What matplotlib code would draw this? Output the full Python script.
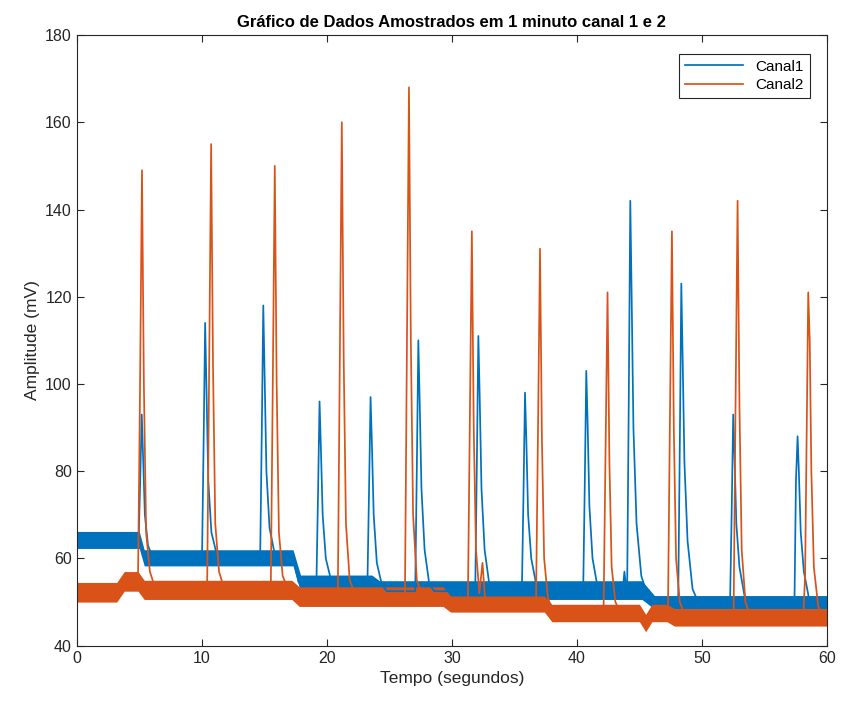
import numpy as np
import matplotlib
matplotlib.use("Agg")
import matplotlib.pyplot as plt

plt.rcParams['font.family'] = ['Liberation Sans', 'DejaVu Sans']

# Canal1 trace keypoints (seconds, mV)
c1_t = [0, 4.95, 5.08, 5.2, 5.3, 5.45, 5.7, 6.1,
        10.02, 10.15, 10.27, 10.37, 10.52, 10.77, 11.15, 11.6,
        14.67, 14.8, 14.92, 15.02, 15.17, 15.42, 15.8, 16.2,
        17.3, 17.75,
        19.17, 19.3, 19.42, 19.52, 19.67, 19.92, 20.3, 20.7,
        23.25, 23.38, 23.5, 23.6, 23.75, 24.0, 24.4, 24.8,
        27.07, 27.2, 27.32, 27.42, 27.57, 27.82, 28.2, 28.6,
        31.87, 32.0, 32.12, 32.22, 32.37, 32.62, 33.0, 33.4,
        35.6, 35.73, 35.85, 35.95, 36.1, 36.35, 36.75, 37.1,
        40.5, 40.63, 40.75, 40.85, 41.0, 41.25, 41.65, 42.0,
        43.65, 43.8, 43.95,
        44.02, 44.15, 44.27, 44.37, 44.52, 44.77, 45.15, 45.6, 46.3,
        48.1, 48.23, 48.35, 48.45, 48.6, 48.85, 49.25, 49.7,
        52.25, 52.38, 52.5, 52.6, 52.75, 53.0, 53.4, 53.8,
        57.4, 57.52, 57.65, 57.75, 57.9, 58.15, 58.55, 59.0, 60]
c1_v = [64, 64, 78, 93, 84, 70, 63, 60,
        60, 87, 114, 100, 78, 66, 61.5, 60,
        60, 89, 118, 103, 80, 67, 61.5, 60,
        60, 54.5,
        54.5, 75, 96, 86, 70, 60, 55.5, 54.5,
        54.5, 76, 97, 87, 70, 59, 54, 52.5,
        52.5, 81, 110, 97, 76, 62, 54, 52.5,
        52.5, 82, 111, 98, 76, 62, 54, 52.5,
        52.5, 75, 98, 88, 70, 60, 54, 52.5,
        52, 77, 103, 92, 72, 60, 53.5, 52,
        52, 57, 53,
        53, 97, 142, 122, 90, 68, 56, 52, 50,
        50, 86, 123, 107, 82, 64, 53, 50,
        50, 71, 93, 84, 68, 58, 51.5, 50,
        50, 78, 88, 80, 66, 57, 51, 50, 50]

# Canal1 noise band: corner times with low / high edge
c1_band_t = [0, 5.0, 5.4, 17.3, 17.9, 23.6, 24.2, 45.2, 46.2, 60]
c1_band_lo = [62.3, 62.3, 58.3, 58.3, 52.3, 52.3, 50.6, 50.6, 48.4, 48.4]
c1_band_hi = [66.2, 66.2, 62.0, 62.0, 56.2, 56.2, 54.9, 54.9, 51.5, 51.5]

# Canal2 trace keypoints
c2_t = [0, 3.3, 3.8, 4.8,
        4.9, 5.05, 5.22, 5.37, 5.55, 5.85, 6.3,
        10.43, 10.58, 10.75, 10.9, 11.08, 11.38, 11.8,
        15.52, 15.67, 15.84, 15.99, 16.17, 16.47, 16.9, 17.25, 17.6,
        20.88, 21.03, 21.2, 21.35, 21.53, 21.83, 22.3,
        26.25, 26.4, 26.57, 26.72, 26.9, 27.2, 27.7,
        29.5, 30.0,
        31.28, 31.43, 31.6, 31.75, 31.93, 32.2, 32.45, 32.65, 33.0,
        36.73, 36.88, 37.05, 37.2, 37.38, 37.68, 38.1,
        42.13, 42.28, 42.45, 42.6, 42.78, 43.08, 43.5,
        45.0, 45.4, 45.8,
        47.28, 47.43, 47.6, 47.75, 47.93, 48.23, 48.7,
        52.53, 52.68, 52.85, 53.0, 53.18, 53.48, 53.9,
        58.1, 58.25, 58.35, 58.5, 58.62, 58.75, 58.95, 59.3, 59.7, 60]
c2_v = [52, 52, 54.5, 54.5,
        54.5, 95, 149, 100, 66, 57, 53,
        53, 100, 155, 104, 68, 57, 53,
        53, 97, 150, 100, 66, 56, 53, 53, 51.5,
        51.5, 102, 160, 106, 68, 55, 51.5,
        51.5, 106, 168, 110, 70, 55, 51,
        51, 49.5,
        49.5, 89, 135, 90, 62, 52, 59, 51, 49.5,
        49.5, 87, 131, 88, 60, 51, 47.5,
        47.5, 82, 121, 82, 58, 50, 47.5,
        47.5, 45, 47,
        47, 89, 135, 90, 60, 50, 46.5,
        46.5, 93, 142, 95, 62, 50, 46.5,
        46.5, 56, 82, 121, 110, 80, 58, 49, 46.5, 46.5]

c2_band_t = [0, 3.2, 3.8, 4.9, 5.4, 17.2, 17.8, 29.3, 29.9, 37.4, 38.0,
             45.0, 45.5, 46.0, 47.2, 47.8, 60]
c2_band_lo = [50.0, 50.0, 52.5, 52.5, 50.6, 50.6, 49.0, 49.0, 47.7, 47.7, 45.5,
              45.5, 43.2, 45.5, 45.5, 44.5, 44.5]
c2_band_hi = [54.5, 54.5, 57.0, 57.0, 55.0, 55.0, 53.5, 53.5, 51.4, 51.4, 49.5,
              49.5, 47.2, 49.5, 49.5, 48.5, 48.5]

blue = '#0072BD'
orange = '#D95319'

fig = plt.figure(figsize=(8.43, 7.06), dpi=100)
ax = fig.add_axes([0.091, 0.0854, 0.890, 0.865])

ax.fill_between(c1_band_t, c1_band_lo, c1_band_hi, color=blue, lw=0)
ax.plot(c1_t, c1_v, color=blue, lw=1.25, label='Canal1')
ax.fill_between(c2_band_t, c2_band_lo, c2_band_hi, color=orange, lw=0)
ax.plot(c2_t, c2_v, color=orange, lw=1.25, label='Canal2')

ax.set_xlim(0, 60)
ax.set_ylim(40, 180)
ax.set_xticks(np.arange(0, 61, 10))
ax.set_yticks(np.arange(40, 181, 20))
ax.tick_params(direction='in', top=True, right=True, labelsize=11.5,
               colors='#262626', length=5, width=0.8)
for s in ax.spines.values():
    s.set_color('#262626')
    s.set_linewidth(0.8)

ax.set_title('Gráfico de Dados Amostrados em 1 minuto canal 1 e 2',
             fontsize=12, fontweight='bold', pad=6)
ax.set_xlabel('Tempo (segundos)', fontsize=12.5, color='#262626')
ax.set_ylabel('Amplitude (mV)', fontsize=12.5, color='#262626')

leg = ax.legend(loc='upper right', fontsize=11, fancybox=False, framealpha=1,
                handlelength=3.8, borderpad=0.4, labelspacing=0.3,
                bbox_to_anchor=(0.987, 0.982))
leg.get_frame().set_edgecolor('#262626')
leg.get_frame().set_linewidth(0.8)

fig.savefig('out.png', dpi=100)
